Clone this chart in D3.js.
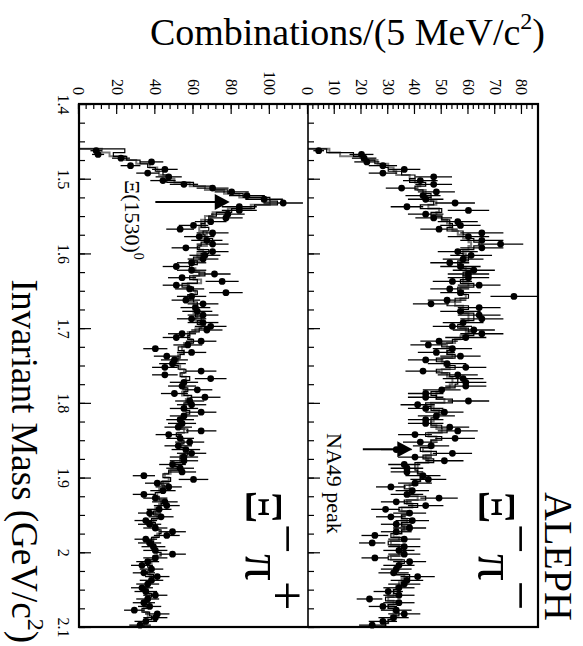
<!DOCTYPE html>
<html>
<head>
<meta charset="utf-8">
<script src="https://cdn.jsdelivr.net/npm/d3@7"></script>
<style>
  body { margin: 0; background: #fff; }
  svg, svg text { font-family: "Liberation Serif", "Times New Roman", serif; }
  svg { display: block; }
</style>
</head>
<body>
<div id="chart"></div>
<script>
// 5 MeV bins starting just above the Xi-pi threshold
const binStart = 1.46;
const binWidth = 0.005;

// Xi- pi- (upper panel in the unrotated plot)
const minusData = [
  4, 20, 21, 22, 28, 36, 28, 47, 42, 47, 35, 48, 43, 44, 55, 37, 60, 44, 47, 56,
  57, 49, 65, 60, 65, 72, 65, 56, 61, 58, 53, 57, 62, 60, 60, 54, 64, 53, 57, 77,
  52, 46, 64, 57, 64, 65, 58, 54, 62, 65, 59, 49, 45, 54, 48, 57, 44, 52, 59, 43,
  56, 58, 59, 59, 50, 44, 44, 60, 41, 44, 51, 48, 44, 44, 53, 56, 40, 55, 42, 46,
  33, 54, 40, 51, 36, 37, 37, 43, 45, 40, 31, 39, 37, 49, 33, 44, 29, 38, 31, 39,
  33, 38, 33, 25, 36, 24, 36, 34, 36, 25, 38, 34, 33, 32, 41, 37, 36, 34, 30, 34,
  23, 34, 28, 33, 36, 32, 28, 24
];
const minusBlack = [
  7, 17, 20, 25, 29, 30, 35, 40, 38, 44, 40, 43, 46, 45, 47, 42, 50, 46, 50, 53,
  54, 52, 58, 60, 62, 64, 62, 56, 58, 60, 56, 58, 61, 58, 60, 57, 62, 56, 58, 60,
  55, 52, 60, 58, 62, 62, 58, 56, 60, 62, 58, 54, 50, 54, 52, 55, 48, 52, 55, 48,
  53, 56, 56, 55, 50, 46, 48, 54, 44, 46, 50, 48, 46, 46, 50, 52, 44, 50, 46, 47,
  42, 48, 43, 47, 40, 40, 41, 43, 42, 41, 36, 39, 38, 44, 36, 41, 34, 38, 35, 38,
  35, 37, 35, 31, 35, 30, 35, 34, 35, 30, 36, 34, 33, 33, 38, 36, 35, 34, 32, 33,
  29, 33, 30, 33, 34, 32, 30, 29
];
const minusGrey = [
  8, 12, 21, 26, 30, 32, 33, 38, 40, 42, 41, 44, 44, 46, 48, 45, 49, 48, 50, 52,
  53, 54, 56, 58, 60, 61, 60, 58, 59, 58, 57, 58, 59, 59, 58, 58, 60, 57, 58, 59,
  57, 55, 58, 58, 60, 60, 58, 57, 59, 60, 57, 55, 52, 53, 52, 54, 50, 51, 53, 50,
  52, 54, 54, 53, 50, 48, 48, 51, 46, 47, 49, 48, 47, 46, 48, 50, 45, 48, 46, 46,
  43, 46, 44, 45, 41, 41, 41, 42, 42, 40, 38, 39, 38, 41, 37, 39, 35, 37, 35, 37,
  35, 36, 35, 32, 34, 31, 34, 34, 34, 31, 35, 34, 33, 33, 36, 35, 34, 33, 32, 32,
  30, 32, 30, 32, 33, 31, 30, 29
];

// Xi- pi+ (lower panel in the unrotated plot)
const plusData = [
  9, 10, 22, 38, 27, 45, 36, 47, 44, 55, 70, 80, 88, 97, 107, 84, 84, 78, 77, 69,
  60, 53, 70, 63, 67, 70, 56, 70, 66, 65, 59, 51, 59, 71, 54, 75, 51, 58, 77, 59,
  56, 65, 61, 62, 65, 59, 65, 69, 67, 54, 51, 64, 57, 40, 59, 46, 50, 49, 45, 64,
  45, 69, 55, 54, 62, 50, 66, 58, 59, 55, 64, 55, 53, 54, 52, 64, 47, 53, 58, 52,
  56, 59, 55, 55, 49, 53, 54, 34, 60, 41, 47, 44, 34, 40, 45, 46, 42, 37, 43, 35,
  37, 40, 49, 46, 35, 37, 39, 40, 49, 40, 36, 33, 38, 34, 41, 38, 36, 33, 35, 40,
  36, 34, 37, 29, 41, 40, 35, 32
];
const plusBlack = [
  24, 18, 25, 32, 36, 40, 44, 48, 46, 60, 70, 78, 86, 100, 104, 92, 80, 72, 68, 66,
  64, 68, 65, 66, 70, 64, 62, 68, 64, 60, 62, 58, 60, 66, 58, 62, 54, 60, 62, 57,
  60, 62, 60, 63, 61, 64, 62, 66, 63, 58, 57, 60, 56, 52, 55, 53, 51, 50, 52, 56,
  53, 58, 56, 54, 57, 55, 59, 57, 55, 56, 58, 54, 52, 55, 53, 57, 51, 54, 55, 52,
  56, 57, 53, 54, 50, 52, 47, 44, 48, 43, 45, 43, 40, 42, 44, 43, 41, 39, 42, 38,
  40, 39, 43, 42, 38, 39, 38, 41, 43, 40, 37, 36, 38, 36, 39, 37, 36, 35, 36, 38,
  36, 35, 36, 33, 37, 38, 35, 33
];
const plusGrey = [
  12, 16, 24, 30, 37, 41, 42, 46, 50, 58, 66, 76, 84, 96, 100, 90, 78, 70, 66, 64,
  66, 63, 67, 64, 66, 67, 63, 65, 62, 63, 60, 59, 61, 63, 60, 64, 57, 59, 61, 59,
  58, 60, 62, 60, 62, 61, 63, 64, 61, 57, 58, 59, 55, 54, 55, 52, 52, 51, 53, 55,
  54, 56, 55, 55, 56, 54, 57, 56, 56, 55, 56, 55, 53, 54, 54, 55, 52, 53, 54, 53,
  55, 55, 54, 53, 51, 51, 48, 45, 47, 44, 44, 42, 41, 41, 43, 42, 40, 40, 41, 39,
  39, 40, 42, 41, 39, 38, 39, 40, 41, 39, 38, 37, 37, 37, 38, 37, 36, 36, 36, 37,
  36, 35, 35, 34, 36, 36, 35, 34
];

// axis ticks
const massTicks = [1.4, 1.5, 1.6, 1.7, 1.8, 1.9, 2.0, 2.1];
const massTickLabels = ["1.4", "1.5", "1.6", "1.7", "1.8", "1.9", "2", "2.1"];
const minusTicks = [0, 10, 20, 30, 40, 50, 60, 70, 80];
const plusTicks = [0, 20, 40, 60, 80, 100];

// annotations: [mass, arrow start, arrow tip]
const xi1530Arrow = [1.531, 40, 79];
const na49Arrow = [1.862, 20.5, 39];

/* ****************************************
 * The plot is drawn upright (646 x 583) and
 * then turned 90 degrees clockwise
 **************************************** */
const W = 646, H = 583;

const svg = d3.select("#chart").append("svg")
  .attr("width", H)
  .attr("height", W);

svg.append("rect").attr("width", H).attr("height", W).attr("fill", "#fff");

const g = svg.append("g")
  .attr("transform", `translate(${H},0) rotate(90)`);

const x = d3.scaleLinear().domain([1.4, 2.1]).range([104, 627]);
const yMinus = d3.scaleLinear().domain([0, 86]).range([275, 45]);
const yPlus = d3.scaleLinear().domain([0, 120]).range([504, 275]);

const minorMass = d3.range(1.4, 2.1001, 0.025);

// d3 axes put a sans-serif font on their group, drop it
function plain(a) {
  a.attr("font-family", null).attr("font-size", 16);
  a.selectAll("text").style("font-family", "'Liberation Serif', 'Times New Roman', serif");
  a.select(".domain").remove();
}

function drawPanel(y, data, black, grey, ticks, minorStep, showMassLabels) {
  const panel = g.append("g");
  const bottom = y.range()[0];

  // mass axis (ticks pointing into the panel)
  panel.append("g")
    .attr("transform", `translate(0,${bottom})`)
    .call(d3.axisBottom(x).tickValues(minorMass).tickSize(-6).tickSizeOuter(0).tickFormat(""))
    .call(plain);
  panel.append("g")
    .attr("transform", `translate(0,${bottom})`)
    .call(d3.axisBottom(x).tickValues(massTicks).tickSize(-12).tickSizeOuter(0)
      .tickPadding(10)
      .tickFormat((d, i) => showMassLabels ? massTickLabels[i] : ""))
    .call(plain);

  // count axis
  const top = y.domain()[1];
  panel.append("g")
    .attr("transform", `translate(${x.range()[0]},0)`)
    .call(d3.axisLeft(y).tickValues(d3.range(0, top, minorStep)).tickSize(-5).tickSizeOuter(0).tickFormat(""))
    .call(plain);
  panel.append("g")
    .attr("transform", `translate(${x.range()[0]},0)`)
    .call(d3.axisLeft(y).tickValues(ticks).tickSize(-10).tickSizeOuter(0).tickPadding(9))
    .call(plain);

  panel.selectAll(".tick line").attr("stroke", "#000").attr("stroke-width", 1.2);

  // step histograms
  const step = d3.line()
    .x(d => x(d[0]))
    .y(d => y(d[1]))
    .curve(d3.curveStepAfter);
  function histPoints(vals) {
    const pts = [[binStart, 0]];
    vals.forEach((v, i) => pts.push([binStart + i * binWidth, v]));
    pts.push([binStart + vals.length * binWidth, vals[vals.length - 1]]);
    return pts;
  }
  panel.append("path")
    .attr("d", step(histPoints(grey)))
    .attr("fill", "none")
    .attr("stroke", "#7a7a7a")
    .attr("stroke-width", 2);
  panel.append("path")
    .attr("d", step(histPoints(black)))
    .attr("fill", "none")
    .attr("stroke", "#000")
    .attr("stroke-width", 1.2);

  // data points with poisson errors
  const pts = panel.append("g").selectAll("g")
    .data(data)
    .join("g");
  pts.append("line")
    .attr("x1", (d, i) => x(binStart + (i + 0.5) * binWidth))
    .attr("x2", (d, i) => x(binStart + (i + 0.5) * binWidth))
    .attr("y1", d => y(Math.max(0, d - Math.sqrt(d))))
    .attr("y2", d => y(d + Math.sqrt(d)))
    .attr("stroke", "#000")
    .attr("stroke-width", 1.3);
  pts.append("circle")
    .attr("cx", (d, i) => x(binStart + (i + 0.5) * binWidth))
    .attr("cy", d => y(d))
    .attr("r", 3.4)
    .attr("fill", "#000");
}

drawPanel(yMinus, minusData, minusBlack, minusGrey, minusTicks, 2, false);
drawPanel(yPlus, plusData, plusBlack, plusGrey, plusTicks, 4, true);

// frame and panel divider
g.append("rect")
  .attr("x", x.range()[0]).attr("y", yMinus.range()[1])
  .attr("width", x.range()[1] - x.range()[0])
  .attr("height", yPlus.range()[0] - yMinus.range()[1])
  .attr("fill", "none").attr("stroke", "#000").attr("stroke-width", 2.2);
g.append("line")
  .attr("x1", x.range()[0]).attr("x2", x.range()[1])
  .attr("y1", yPlus.range()[1]).attr("y2", yPlus.range()[1])
  .attr("stroke", "#000").attr("stroke-width", 1.6);

// arrows
function arrow(y, a) {
  const ax = x(a[0]), y0 = y(a[1]), y1 = y(a[2]);
  g.append("line")
    .attr("x1", ax).attr("x2", ax).attr("y1", y0).attr("y2", y1 + 12)
    .attr("stroke", "#000").attr("stroke-width", 2);
  g.append("path")
    .attr("d", `M${ax},${y1} L${ax - 8},${y1 + 15} L${ax + 8},${y1 + 15} Z`)
    .attr("fill", "#000");
}
arrow(yPlus, xi1530Arrow);
arrow(yMinus, na49Arrow);

// texts
const t1 = g.append("text").attr("x", 180).attr("y", 458).attr("font-size", 22);
t1.append("tspan").text("\u039E(1530)");
t1.append("tspan").attr("font-size", 14).attr("dy", -9).text("0");

g.append("text").attr("x", 433).attr("y", 256).attr("font-size", 22).text("NA49 peak");

function channel(y0, sign) {
  const t = g.append("text").attr("x", 490).attr("y", y0).attr("font-size", 53);
  t.append("tspan").text("\u039E");
  t.append("tspan").attr("dy", -24).text("\u2212");
  t.append("tspan").attr("dy", 24).text("\u03C0");
  t.append("tspan").attr("dy", -24).text(sign);
}
channel(104, "\u2212");
channel(337, "+");

g.append("text").attr("x", 492).attr("y", 38).attr("font-size", 40).text("ALEPH");

const yt = g.append("text")
  .attr("transform", "translate(45,38) rotate(-90)")
  .attr("text-anchor", "end")
  .attr("font-size", 38);
yt.append("tspan").text("Combinations/(5 MeV/c");
yt.append("tspan").attr("font-size", 24).attr("dy", -16).text("2");
yt.append("tspan").attr("dy", 16).text(")");

const xt = g.append("text")
  .attr("x", 643).attr("y", 571)
  .attr("text-anchor", "end")
  .attr("font-size", 37);
xt.append("tspan").text("Invariant Mass (GeV/c");
xt.append("tspan").attr("font-size", 24).attr("dy", -16).text("2");
xt.append("tspan").attr("dy", 16).text(")");
</script>
</body>
</html>
